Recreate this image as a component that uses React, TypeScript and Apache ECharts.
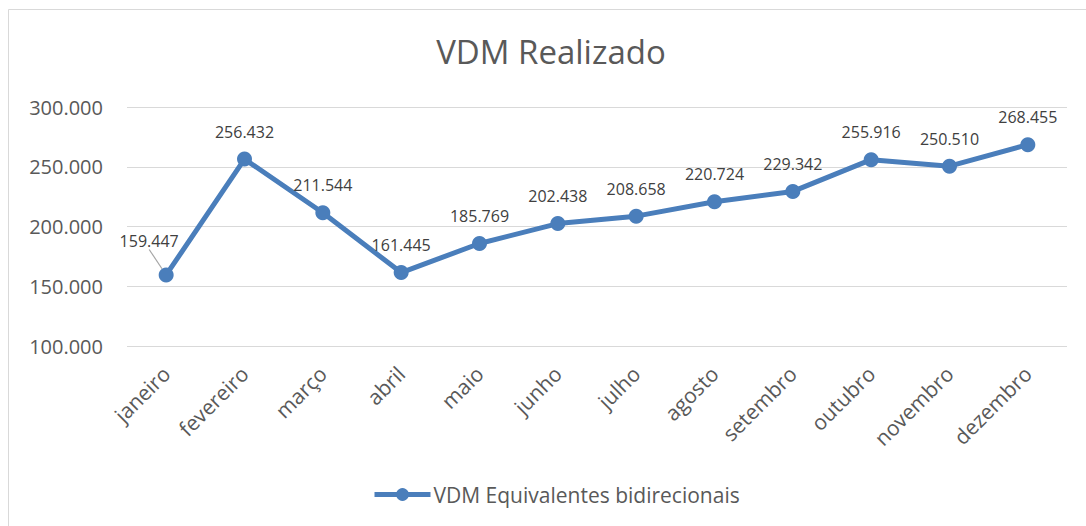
import React, { useEffect, useRef } from "react";
import * as echarts from "echarts";

const months = ["janeiro", "fevereiro", "março", "abril", "maio", "junho", "julho", "agosto", "setembro", "outubro", "novembro", "dezembro"];
const vdmValues = [159447, 256432, 211544, 161445, 185769, 202438, 208658, 220724, 229342, 255916, 250510, 268455];
const seriesName = "VDM Equivalentes bidirecionais";
const chartTitle = "VDM Realizado";
const yMin = 100000;
const yMax = 300000;
const yInterval = 50000;

const FONT = "'Open Sans', sans-serif";
const TEXT = "#595959";
const BLUE = "#4A7EBB";

function fmt(v: number): string {
  const s = Math.round(v).toString();
  return s.replace(/\B(?=(\d{3})+(?!\d))/g, ".");
}

export default function App() {
  const ref = useRef<HTMLDivElement>(null);
  useEffect(() => {
    if (!ref.current) return;
    const chart = echarts.init(ref.current, null, { renderer: "svg" });
    const seriesData = vdmValues.map((v, i) =>
      i === 0
        ? { value: v, labelLine: { show: true, lineStyle: { color: "#a6a6a6", width: 1.2 } } }
        : { value: v }
    );
    chart.setOption({
      animation: false,
      backgroundColor: "#ffffff",
      textStyle: { fontFamily: FONT },
      title: {
        text: chartTitle,
        left: 551,
        top: 35,
        padding: 0,
        textAlign: "center",
        textStyle: { fontFamily: FONT, fontSize: 33, fontWeight: "normal", color: TEXT },
      },
      legend: {
        data: [seriesName],
        left: 372,
        top: 484,
        padding: 0,
        itemWidth: 56,
        itemHeight: 16,
        itemGap: 10,
        lineStyle: { width: 5 },
        textStyle: { fontFamily: FONT, fontSize: 21, color: TEXT, padding: [0, 0, 0, -2] },
      },
      grid: { left: 127, right: 19, top: 107, bottom: 180, containLabel: false },
      xAxis: {
        type: "category",
        data: months,
        boundaryGap: true,
        axisLine: { show: false },
        axisTick: { show: false },
        axisLabel: { rotate: 45, margin: 24, fontFamily: FONT, fontSize: 21, color: TEXT, interval: 0 },
      },
      yAxis: {
        type: "value",
        min: yMin,
        max: yMax,
        interval: yInterval,
        axisLine: { show: false },
        axisTick: { show: false },
        splitLine: { lineStyle: { color: "#d9d9d9", width: 1 } },
        axisLabel: { fontFamily: FONT, fontSize: 20, color: TEXT, margin: 24, formatter: (v: number) => fmt(v) },
      },
      graphic: [
        {
          type: "rect",
          silent: true,
          shape: { x: 8.5, y: 9.5, width: 1200, height: 700 },
          style: { fill: "none", stroke: "#d9d9d9", lineWidth: 1 },
          z: -10,
        },
      ],
      series: [
        {
          name: seriesName,
          type: "line",
          data: seriesData,
          symbol: "circle",
          symbolSize: 15,
          lineStyle: { color: BLUE, width: 5 },
          itemStyle: { color: BLUE },
          label: {
            show: true,
            position: "top",
            distance: 12,
            fontFamily: FONT,
            fontSize: 16,
            color: "#404040",
            formatter: (p: any) => fmt(p.value),
          },
          labelLine: { show: false },
          labelLayout: (p: any) => (p.dataIndex === 0 ? { dx: -17, dy: -6 } : {}),
        },
      ],
    });
    return () => chart.dispose();
  }, []);
  return <div ref={ref} style={{ position: "fixed", left: 0, top: 0, width: 1086, height: 526 }} />;
}
